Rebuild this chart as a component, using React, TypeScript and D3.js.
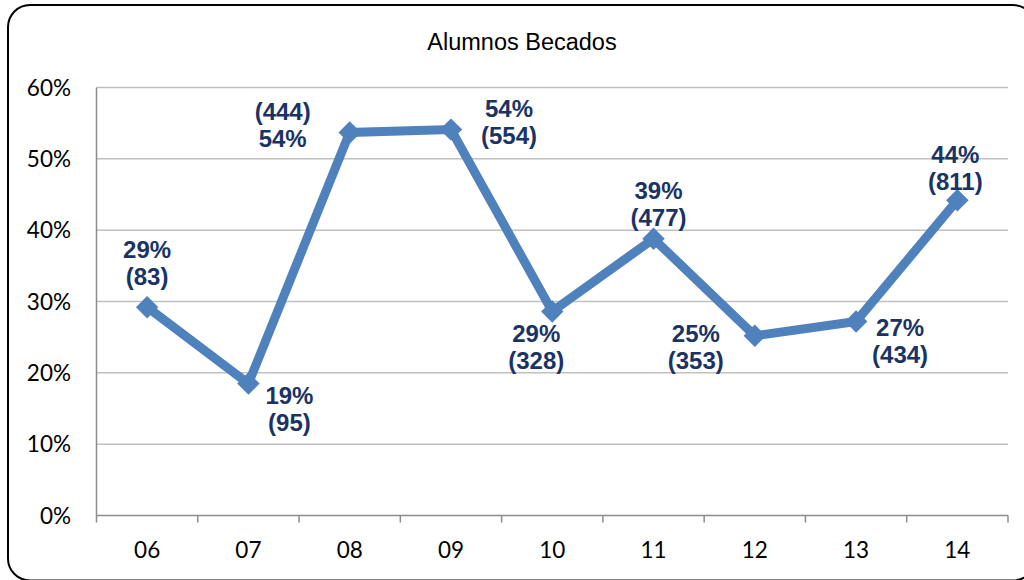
import React from "react";
import * as d3 from "d3";

const categories = ["06", "07", "08", "09", "10", "11", "12", "13", "14"];
const values = [29.2, 18.5, 53.7, 54.1, 28.6, 38.8, 25.2, 27.2, 44.2];
const counts = ["(83)", "(95)", "(444)", "(554)", "(328)", "(477)", "(353)", "(434)", "(811)"];
const pctLabels = ["29%", "19%", "54%", "54%", "29%", "39%", "25%", "27%", "44%"];
const countFirst = [false, false, true, false, false, false, false, false, false];
const yTicks = [0, 10, 20, 30, 40, 50, 60];
const title = "Alumnos Becados";

// label layout offsets (px) relative to each marker: [dx, dy of first line centre]
const labelOffsets: [number, number][] = [
  [0, -58], [41, 12], [-67, -21], [58, -21], [-16, 22], [5, -48], [-59, -2], [44, 6], [-2, -46],
];

export default function App() {
  const W = 1024, H = 580;
  const left = 96.5, right = 1008, top = 87.5, bottom = 515.5;
  const x = d3.scaleBand<string>().domain(categories).range([left, right]);
  const y = d3.scaleLinear().domain([0, 60]).range([bottom, top]);
  const cx = (c: string) => (x(c) as number) + x.bandwidth() / 2;
  const line = d3.line<number>().x((_, i) => cx(categories[i])).y((v) => y(v));
  const diamond = d3.symbol().type(d3.symbolDiamond2).size(320)();
  const lineGap = 27;

  return (
    <svg width={W} height={H} style={{ position: "absolute", left: 0, top: 0 }}>
      <rect x={0} y={0} width={W} height={H} fill="#fff" />
      <rect x={8} y={5} width={1027} height={575.5} rx={22} ry={22} fill="#fff" stroke="#000" strokeWidth={2} />
      <text x={522} y={49.5} textAnchor="middle" fontFamily="'Liberation Sans', Arial, sans-serif" fontSize={23.5} fill="#000">
        {title}
      </text>
      {yTicks.map((t) => (
        <g key={t}>
          {t > 0 && <line x1={left} x2={right} y1={y(t)} y2={y(t)} stroke="#c0c0c0" strokeWidth={1.5} />}
          <text x={71} y={y(t) + 8} textAnchor="end" fontFamily="Lato, 'Open Sans', sans-serif" fontSize={22.5} fill="#000">
            {t}%
          </text>
        </g>
      ))}
      <line x1={left} x2={left} y1={top} y2={bottom + 7} stroke="#8c8c8c" strokeWidth={1.5} />
      <line x1={left} x2={right} y1={bottom} y2={bottom} stroke="#8c8c8c" strokeWidth={1.5} />
      {categories.map((c) => (
        <line key={"t" + c} x1={(x(c) as number) + x.bandwidth()} x2={(x(c) as number) + x.bandwidth()} y1={bottom} y2={bottom + 7} stroke="#8c8c8c" strokeWidth={1.5} />
      ))}
      {categories.map((c) => (
        <text key={"l" + c} x={cx(c)} y={558} textAnchor="middle" fontFamily="Lato, 'Open Sans', sans-serif" fontSize={22.5} fill="#000">
          {c}
        </text>
      ))}
      <path d={line(values) || ""} fill="none" stroke="#4F81BD" strokeWidth={9} strokeLinejoin="miter" />
      {values.map((v, i) => (
        <path key={"m" + i} d={diamond || ""} transform={`translate(${cx(categories[i])},${y(v)})`} fill="#4F81BD" />
      ))}
      {values.map((v, i) => {
        const px = cx(categories[i]), py = y(v);
        const [dx, dy] = labelOffsets[i];
        const first = countFirst[i] ? counts[i] : pctLabels[i];
        const second = countFirst[i] ? pctLabels[i] : counts[i];
        return (
          <g key={"d" + i} fontFamily="'Liberation Sans', Arial, sans-serif" fontWeight="bold" fontSize={24} fill="#1A3365" textAnchor="middle">
            <text x={px + dx} y={py + dy + 8.5}>{first}</text>
            <text x={px + dx} y={py + dy + lineGap + 8.5}>{second}</text>
          </g>
        );
      })}
    </svg>
  );
}
